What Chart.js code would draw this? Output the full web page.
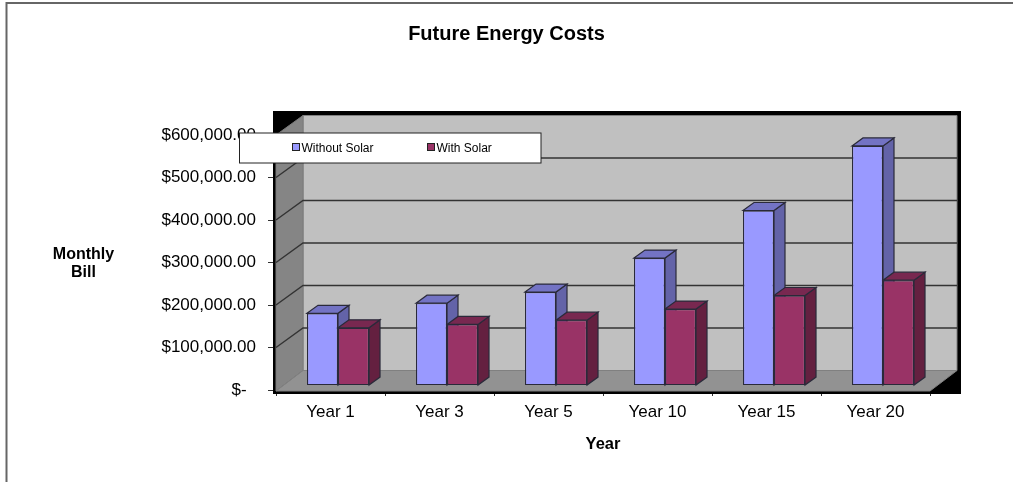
<!DOCTYPE html>
<html>
<head>
<meta charset="utf-8">
<title>Future Energy Costs</title>
<script src="https://cdn.jsdelivr.net/npm/chart.js@4"></script>
<style>
  html, body { margin: 0; padding: 0; background: #fff; }
  canvas { display: block; }
</style>
</head>
<body>
<canvas id="myChart" width="1013" height="482"></canvas>
<script>
const categories = ['Year 1', 'Year 3', 'Year 5', 'Year 10', 'Year 15', 'Year 20'];
const withoutSolar = [170000, 194000, 220000, 300000, 412000, 564000];
const withSolar = [136000, 144000, 154000, 180000, 212000, 248000];
const seriesNames = ['Without Solar', 'With Solar'];
const yAxisLines = ['Monthly', 'Bill'];

const FONT = '"Liberation Sans", Arial, sans-serif';

// colours of each bar: front, top, side
const blue = { front: '#9999ff', top: '#7373c4', side: '#6363a8' };
const maroon = { front: '#993366', top: '#782850', side: '#642040' };

// floor/wall depth of the 3d box and bar depth
const wallX = 27, wallY = -19.5;
const barDepthX = 11, barDepthY = -8;
const barShiftX = 7.5, barShiftY = -4.4;

function poly(ctx, pts, fill, stroke, width) {
  ctx.beginPath();
  pts.forEach((p, i) => i ? ctx.lineTo(p[0], p[1]) : ctx.moveTo(p[0], p[1]));
  ctx.closePath();
  if (fill) { ctx.fillStyle = fill; ctx.fill(); }
  if (stroke) { ctx.strokeStyle = stroke; ctx.lineWidth = width || 1; ctx.stroke(); }
}

const box3d = {
  id: 'box3d',
  afterLayout(chart) {
    // title is centred on the whole canvas, not the padded area
    chart.titleBlock.left = 0;
    chart.titleBlock.right = chart.width;
  },
  beforeDatasetsDraw(chart) {
    const { ctx, chartArea: a, scales } = chart;
    const l = a.left, r = a.right, t = a.top, b = a.bottom;
    ctx.save();

    // black frame, shows through at two corners
    ctx.fillStyle = '#000';
    ctx.fillRect(l - 3, t + wallY - 4.5, r - l + wallX + 7, b - t - wallY + 8.5);

    // back wall, left wall, floor
    poly(ctx, [[l + wallX, t + wallY], [r + wallX, t + wallY], [r + wallX, b + wallY], [l + wallX, b + wallY]], '#c0c0c0', '#808080');
    poly(ctx, [[l, t], [l + wallX, t + wallY], [l + wallX, b + wallY], [l, b + 1]], '#858585', '#7a7a7a');
    poly(ctx, [[l, b + 1], [l + wallX, b + wallY], [r + wallX, b + wallY], [r, b + 1]], '#929292', '#808080');

    // grid lines run along left wall and back wall
    ctx.strokeStyle = '#333';
    ctx.lineWidth = 1.4;
    scales.y.ticks.forEach(tick => {
      if (tick.value === 0 || tick.value === scales.y.max) return;
      const y = scales.y.getPixelForValue(tick.value);
      ctx.beginPath();
      ctx.moveTo(l, y);
      ctx.lineTo(l + wallX, y + wallY);
      ctx.lineTo(r + wallX, y + wallY);
      ctx.stroke();
    });

    // move bars into the middle of the floor depth
    ctx.translate(barShiftX, barShiftY);

    // tops and sides, the fronts come from the library afterwards
    categories.forEach((c, j) => {
      [blue, maroon].forEach((col, i) => {
        const bar = chart.getDatasetMeta(i).data[j];
        const x1 = bar.x - bar.width / 2, x2 = bar.x + bar.width / 2;
        const y1 = bar.y, y2 = bar.base;
        poly(ctx, [[x2, y1], [x2 + barDepthX, y1 + barDepthY], [x2 + barDepthX, y2 + barDepthY], [x2, y2]], col.side, '#2a2a3a', 1.2);
        poly(ctx, [[x1, y1], [x1 + barDepthX, y1 + barDepthY], [x2 + barDepthX, y1 + barDepthY], [x2, y1]], col.top, '#2a2a3a', 1.2);
      });
    });
  },
  afterDatasetsDraw(chart) {
    chart.ctx.restore();
  },
  afterDraw(chart) {
    const { ctx } = chart;
    ctx.save();

    // outer chart border
    ctx.strokeStyle = '#666';
    ctx.lineWidth = 2;
    ctx.beginPath();
    ctx.moveTo(6.5, 482);
    ctx.lineTo(6.5, 3);
    ctx.lineTo(1013, 3);
    ctx.stroke();

    // y axis title, horizontal
    ctx.fillStyle = '#000';
    ctx.font = 'bold 16px ' + FONT;
    ctx.textAlign = 'center';
    ctx.textBaseline = 'middle';
    yAxisLines.forEach((txt, i) => ctx.fillText(txt, 83.5, 255 + i * 18));

    // legend box sits over the plot
    ctx.fillStyle = '#fff';
    ctx.fillRect(239.5, 133, 301.5, 30);
    ctx.strokeStyle = '#222';
    ctx.lineWidth = 1;
    ctx.strokeRect(239.5, 133, 301.5, 30);
    const marks = [292.5, 427.5];
    ctx.font = '12px ' + FONT;
    ctx.textAlign = 'left';
    seriesNames.forEach((name, i) => {
      ctx.fillStyle = chart.data.datasets[i].backgroundColor;
      ctx.fillRect(marks[i], 143.5, 7, 7);
      ctx.strokeStyle = '#222';
      ctx.strokeRect(marks[i], 143.5, 7, 7);
      ctx.fillStyle = '#000';
      ctx.fillText(name, marks[i] + 9, 148.5);
    });
    ctx.restore();
  }
};

function money(v) {
  if (v === 0) return '$-  ';
  return '$' + v.toLocaleString('en-US') + '.00';
}

new Chart(document.getElementById('myChart'), {
  type: 'bar',
  data: {
    labels: categories,
    datasets: [
      { label: seriesNames[0], data: withoutSolar, backgroundColor: blue.front },
      { label: seriesNames[1], data: withSolar, backgroundColor: maroon.front }
    ]
  },
  options: {
    responsive: false,
    animation: false,
    devicePixelRatio: 1,
    layout: { padding: { left: 0, right: 83, top: 0, bottom: 0 } },
    datasets: {
      bar: {
        categoryPercentage: 0.569,
        barPercentage: 1,
        borderWidth: 1.2,
        borderColor: '#2a2a3a',
        borderSkipped: false,
        clip: false
      }
    },
    scales: {
      x: {
        afterFit(scale) { scale.height = 92; },
        grid: { offset: true, drawOnChartArea: false, tickLength: 6, color: '#333' },
        border: { display: false },
        ticks: { color: '#000', padding: 6, maxRotation: 0, font: { family: FONT, size: 17 } },
        title: {
          display: true,
          text: 'Year',
          color: '#000',
          padding: { top: 0, bottom: 28 },
          font: { family: FONT, size: 16.5, weight: 'bold' }
        }
      },
      y: {
        min: 0,
        max: 600000,
        afterFit(scale) { scale.width = 276; },
        grid: { drawOnChartArea: false, tickLength: 8, color: '#333' },
        border: { display: false },
        ticks: {
          stepSize: 100000,
          color: '#000',
          padding: 12,
          callback: money,
          font: { family: FONT, size: 17 }
        }
      }
    },
    plugins: {
      legend: { display: false },
      tooltip: { enabled: false },
      title: {
        display: true,
        text: 'Future Energy Costs',
        color: '#000',
        padding: { top: 22, bottom: 89 },
        font: { family: FONT, size: 20, weight: 'bold' }
      }
    }
  },
  plugins: [box3d]
});
</script>
</body>
</html>
